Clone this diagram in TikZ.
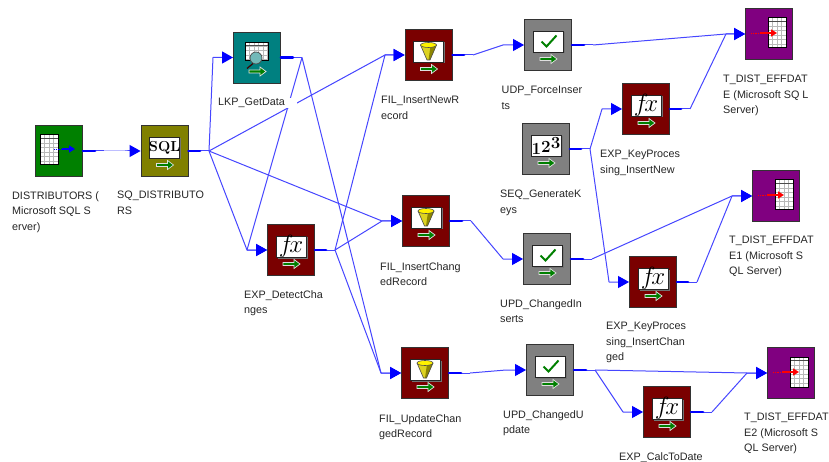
\documentclass[tikz,border=0pt]{standalone}
\usepackage{fontspec}
\usetikzlibrary{arrows.meta}
\newfontfamily\labelfont{Liberation Sans}
\definecolor{srcGreen}{RGB}{0,128,0}
\definecolor{sqOlive}{RGB}{128,128,0}
\definecolor{lkpTeal}{RGB}{0,128,128}
\definecolor{expMaroon}{RGB}{122,0,0}
\definecolor{updGray}{RGB}{128,128,128}
\definecolor{tgtPurple}{RGB}{128,0,128}
\definecolor{wireBlue}{RGB}{70,70,255}
\definecolor{pureBlue}{RGB}{0,0,255}

\newcommand{\tablegrid}[4]{
    \begin{scope}[shift={(#1,#2)}]
        \fill[white] (0,0) rectangle (#3,#4);
        \foreach \g in {4.5,9,...,#3} {
            \draw[gray!55, line width=0.5pt] (\g,0) -- (\g,#4);
        }
        \foreach \g in {3.5,8,...,#4} {
            \draw[gray!55, line width=0.5pt] (0,\g) -- (#3,\g);
        }
        \draw[black!70, line width=1pt] (0,3.5) -- (#3,3.5);
        \draw[black, line width=1pt] (0,0) rectangle (#3,#4);
    \end{scope}
}

\tikzset{
    box/.style={draw=black!80, line width=0.9pt, minimum width=47pt, minimum height=51pt, inner sep=0pt},
    wire/.style={wireBlue, line width=1pt, line join=round},
    tipwire/.style={wire, -{Triangle[length=11pt,width=12pt,color=pureBlue]}},
    stub/.style={pureBlue, line width=2.8pt, line cap=round, shorten >=9pt},
    tagtext/.style={anchor=north west, inner sep=0pt, fill=white, align=left, text=black!85,
        font=\labelfont\fontsize{10.8}{15.6}\selectfont},
    % icon parts
    greenarrow/.pic={
        \draw[fill=srcGreen, draw=white!75!gray, line width=0.7pt]
            (-8,12.5) -- (3,12.5) -- (3,9.5) -- (9,14) -- (3,18.5) -- (3,15.5) -- (-8,15.5) -- cycle;
    },
    panel/.pic={
        \fill[black!55] (-13.5,-12.5) rectangle (16.5,8.5);
        \draw[black!85, fill=white, line width=0.7pt] (-15,-14) rectangle (15,7);
    },
    sqlicon/.pic={
        \pic {panel};
        \pic {greenarrow};
        \node[inner sep=0pt, font=\bfseries\fontsize{14.5}{15}\selectfont] (glyph) at (0,-3.5) {SQL};
    },
    fxicon/.pic={
        \pic {panel};
        \pic {greenarrow};
        \node[inner sep=0pt, font=\fontsize{23}{24}\selectfont] (glyph) at (0,-4) {\(f\!x\)};
    },
    checkicon/.pic={
        \pic {panel};
        \pic {greenarrow};
        \draw[srcGreen, line width=2pt] (-6.5,-3.5) -- (-1.5,1.5) -- (8.5,-9.5);
    },
    seqicon/.pic={
        \pic {panel};
        \pic {greenarrow};
        \node[inner sep=0pt, font=\bfseries\fontsize{17}{18}\selectfont] (glyph) at (0,-3)
            {1\raisebox{2.5pt}{2}\raisebox{6pt}{3}};
    },
    funnelicon/.pic={
        \pic {panel};
        \pic {greenarrow};
        \fill[yellow!85!black] (-8,-10) -- (8,-10) -- (1.5,5) -- (-1.5,5) -- cycle;
        \fill[olive] (2,-9) -- (8,-10) -- (1.5,5) -- (0,5) -- cycle;
        \draw[black!70, line width=0.6pt] (-8,-10) -- (-1.5,5) -- (1.5,5) -- (8,-10);
        \draw[black!70, fill=yellow, line width=0.6pt] (0,-10) ellipse (8 and 2.5);
    },
    lookupicon/.pic={
        \pic {greenarrow};
        \tablegrid{-12}{-15}{23.5}{18}
        \draw[black!60!red!60!black, line width=1.2pt] (-4,6) -- (-10,11);
        \draw[black!70, fill=lkpTeal!55!white, line width=0.7pt] (-1,0.5) circle (6);
    },
    srcicon/.pic={
        \tablegrid{-19}{-16}{18}{30}
        \draw[pureBlue, line width=0.8pt, densely dotted] (-5,-2) -- (3,-2);
        \draw[pureBlue, line width=1.6pt, -{Triangle[length=6pt,width=7pt]}] (3,-2) -- (16,-2);
    },
    tgticon/.pic={
        \tablegrid{-1}{-16}{18}{30}
        \draw[red, line width=0.8pt, densely dotted] (-18,-1) -- (-9,-1);
        \draw[red, line width=1.6pt, -{Triangle[length=6pt,width=7pt]}] (-9,-1) -- (8,-1);
    }
}

\begin{document}
\begin{tikzpicture}[x=1pt, y=-1pt]
    \useasboundingbox (0,0) rectangle (829,462);

    % transformations
    \foreach \n/\x/\y/\col/\icon in {
        dist/59/151/srcGreen/srcicon, sq/164.5/151/sqOlive/sqlicon, lkp/257/57.5/lkpTeal/lookupicon,
        det/291/250/expMaroon/fxicon, filNew/428.5/55/expMaroon/funnelicon,
        filChg/426/221/expMaroon/funnelicon, filUpd/425/373/expMaroon/funnelicon,
        udp/548/45/updGray/checkicon, seq/546/149/updGray/seqicon, ins/547/259/updGray/checkicon,
        upd/550/370/updGray/checkicon, keyNew/646/109/expMaroon/fxicon,
        keyChg/653/282/expMaroon/fxicon, calc/667/412/expMaroon/fxicon,
        tZero/769/34/tgtPurple/tgticon, tOne/776/196/tgtPurple/tgticon, tTwo/791/373/tgtPurple/tgticon} {
        \node[box, fill=\col] (\n) at (\x,\y) {};
        \pic (\n Icon) at (\n) {\icon};
    }

    % junctions
    \foreach \n/\x/\y in {
        distJoin/104/151, sqJoin/209/151, lkpJoin/302/57.5, detJoin/335/250, filNewJoin/473/55,
        filChgJoin/471/221, filUpdJoin/470/373, udpJoin/593/45, seqJoin/590/149, insJoin/592/259,
        updJoin/595/370, keyNewJoin/690/109, keyChgJoin/697/282, calcJoin/712/412} {
        \coordinate (\n) at (\x,\y);
    }

    % bends before the arrow heads
    \foreach \n/\x/\y in {
        sqIn/125/151, lkpIn/213/57.5, detIn/247/250, filNewIn/385/55, filChgIn/382/221, filUpdIn/381/373,
        udpIn/503/45, insIn/503/259, updIn/506/370, keyNewIn/602/109, keyChgIn/609/282,
        calcIn/623/412, tZeroIn/726/34, tOneIn/732/196, tTwoIn/747/373} {
        \coordinate (\n) at (\x,\y);
    }

    \foreach \a/\b in {
        dist/distJoin, sq/sqJoin, lkp/lkpJoin, det/detJoin, filNew/filNewJoin, filChg/filChgJoin,
        filUpd/filUpdJoin, udp/udpJoin, seq/seqJoin, ins/insJoin, upd/updJoin, keyNew/keyNewJoin,
        keyChg/keyChgJoin, calc/calcJoin} {
        \draw[wire] (\a.east) -- (\b);
        \draw[stub] (\a.east) -- (\b);
    }

    \foreach \a/\b/\c in {
        distJoin/sqIn/sq, sqJoin/lkpIn/lkp, sqJoin/filNewIn/filNew, sqJoin/filChgIn/filChg,
        sqJoin/detIn/det, lkpJoin/detIn/det, lkpJoin/filUpdIn/filUpd, detJoin/filNewIn/filNew,
        detJoin/filChgIn/filChg, detJoin/filUpdIn/filUpd, filNewJoin/udpIn/udp, udpJoin/tZeroIn/tZero,
        keyNewJoin/tZeroIn/tZero, seqJoin/keyNewIn/keyNew, seqJoin/keyChgIn/keyChg,
        filChgJoin/insIn/ins, insJoin/tOneIn/tOne, keyChgJoin/tOneIn/tOne, filUpdJoin/updIn/upd,
        updJoin/tTwoIn/tTwo, updJoin/calcIn/calc, calcJoin/tTwoIn/tTwo} {
        \draw[tipwire] (\a) -- (\b) -- (\c.west);
    }

    % labels sit over the wires
    \node[tagtext] (distTag) at (12,191) {DISTRIBUTORS (\\Microsoft SQL S\\erver)};
    \node[tagtext] (sqTag) at (117,191) {SQ\_DISTRIBUTO\\RS};
    \node[tagtext, text width=79pt] (lkpTag) at (218,98) {LKP\_GetData};
    \node[tagtext] (detTag) at (244,290) {EXP\_DetectCha\\nges};
    \node[tagtext] (filNewTag) at (381,96) {FIL\_InsertNewR\\ecord};
    \node[tagtext] (filChgTag) at (380,262) {FIL\_InsertChang\\edRecord};
    \node[tagtext] (filUpdTag) at (379,414) {FIL\_UpdateChan\\gedRecord};
    \node[tagtext] (udpTag) at (501.5,86) {UDP\_ForceInser\\ts};
    \node[tagtext] (seqTag) at (500,190) {SEQ\_GenerateK\\eys};
    \node[tagtext] (insTag) at (500,299) {UPD\_ChangedIn\\serts};
    \node[tagtext] (updTag) at (503,410) {UPD\_ChangedU\\pdate};
    \node[tagtext] (keyNewTag) at (600,150) {EXP\_KeyProces\\sing\_InsertNew};
    \node[tagtext] (keyChgTag) at (606,322) {EXP\_KeyProces\\sing\_InsertChan\\ged};
    \node[tagtext] (calcTag) at (619,452) {EXP\_CalcToDate};
    \node[tagtext] (tZeroTag) at (723,75) {T\_DIST\_EFFDAT\\E (Microsoft SQ L\\Server)};
    \node[tagtext] (tOneTag) at (729,236) {T\_DIST\_EFFDAT\\E1 (Microsoft S\\QL Server)};
    \node[tagtext] (tTwoTag) at (744,413) {T\_DIST\_EFFDAT\\E2 (Microsoft S\\QL Server)};
\end{tikzpicture}
\end{document}
